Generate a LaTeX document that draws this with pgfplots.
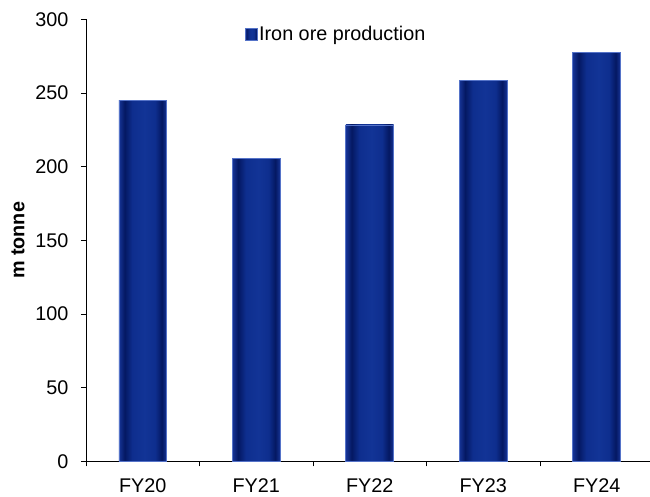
\documentclass[border=0pt]{standalone}
\usepackage{pgfplots}
\pgfplotsset{compat=1.18}
\usepackage{fontspec}
\setmainfont{Liberation Sans}
\definecolor{barEdge}{RGB}{85,115,200}
\definecolor{barIn}{RGB}{22,52,150}
\definecolor{barDark}{RGB}{4,24,98}
\definecolor{barMid}{RGB}{14,46,142}
\definecolor{barLight}{RGB}{18,52,150}
\pgfdeclarehorizontalshading{barshade}{100bp}{color(0bp)=(barIn); color(25bp)=(barIn); color(31bp)=(barDark); color(39bp)=(barMid); color(52bp)=(barLight); color(63bp)=(barMid); color(70bp)=(barDark); color(75bp)=(barIn); color(100bp)=(barIn)}
\pgfplotsset{barstyle/.style={ybar, bar shift=0pt, bar width=0.42, draw=barEdge, line width=0.8pt, shading=barshade}}
\begin{document}
\begin{tikzpicture}
\begin{axis}[
  scale only axis,
  width=564pt, height=441.8pt,
  xmin=-0.5, xmax=4.47, ymin=0, ymax=300,
  axis lines=left,
  axis line style={-, line width=0.8pt, black},
  xtick={0,1,2,3,4},
  xticklabels={FY20,FY21,FY22,FY23,FY24},
  minor xtick={-0.5,0.5,1.5,2.5,3.5},
  ytick={0,50,100,150,200,250,300},
  tick align=outside,
  major tick length=5pt, minor tick length=5pt,
  every tick/.style={black, line width=0.8pt},
  major x tick style={draw=none},
  font=\fontsize{19.8}{23}\selectfont,
  /pgf/number format/assume math mode=true,
  xticklabel style={yshift=-8.5pt},
  yticklabel style={xshift=-9pt},
  ylabel={\bfseries m tonne},
  every axis y label/.style={at={(axis description cs:-0.1206,0.5)}, rotate=90, anchor=center},
  legend style={at={(axis description cs:0.282,0.966)}, anchor=west, draw=none, fill=none,
    inner sep=0pt, outer sep=0pt, nodes={inner sep=1.5pt}, font=\fontsize{19.8}{23}\selectfont},
  legend cell align=left,
  legend image code/.code={\draw[draw=barEdge, line width=0.6pt, fill=barMid] (0pt,-6pt) rectangle (12pt,6pt);},
]
\addplot[barstyle] coordinates {(0,245.1)};
\addlegendentry{Iron ore production}
\addplot[barstyle, forget plot] coordinates {(1,205.5)};
\addplot[barstyle, forget plot] coordinates {(2,228.4)};
\addplot[barstyle, forget plot] coordinates {(3,258.7)};
\addplot[barstyle, forget plot] coordinates {(4,277.7)};
\end{axis}
\pgfresetboundingbox
\useasboundingbox ([xshift=-86pt, yshift=-35.7pt]current axis.south west) rectangle ([yshift=19.5pt]current axis.north east);
\end{tikzpicture}
\end{document}
